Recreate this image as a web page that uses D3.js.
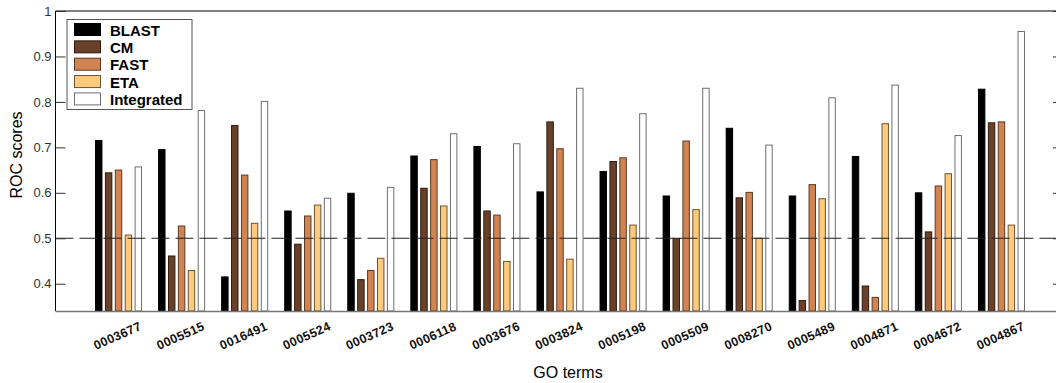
<!DOCTYPE html>
<html>
<head>
<meta charset="utf-8">
<script src="https://cdn.jsdelivr.net/npm/d3@7"></script>
<style>
  body { margin: 0; background: #fff; }
  svg { display: block; font-family: "Liberation Sans", Arial, sans-serif; }
</style>
</head>
<body>
<svg id="chart" width="1056" height="383"></svg>
<script>
const categories = ["0003677","0005515","0016491","0005524","0003723","0006118","0003676","0003824","0005198","0005509","0008270","0005489","0004871","0004672","0004867"];
const seriesNames = ["BLAST","CM","FAST","ETA","Integrated"];
const BLAST      = [0.715,0.695,0.415,0.560,0.599,0.681,0.702,0.602,0.647,0.593,0.742,0.593,0.680,0.600,0.828];
const CM         = [0.644,0.461,0.748,0.487,0.409,0.610,0.560,0.756,0.669,0.500,0.589,0.363,0.395,0.514,0.754];
const FAST       = [0.650,0.527,0.639,0.549,0.429,0.673,0.551,0.697,0.677,0.714,0.601,0.618,0.370,0.615,0.756];
const ETA        = [0.507,0.429,0.533,0.573,0.456,0.571,0.449,0.454,0.529,0.563,0.500,0.587,0.752,0.642,0.529];
const Integrated = [0.657,0.781,0.801,0.588,0.612,0.730,0.708,0.830,0.774,0.830,0.705,0.809,0.837,0.726,0.955];
const yTicks = [0.4,0.5,0.6,0.7,0.8,0.9,1];
const yTickLabels = ["0.4","0.5","0.6","0.7","0.8","0.9","1"];
const refLine = 0.5;

const values = {BLAST, CM, FAST, ETA, Integrated};
const fills = {BLAST:"#000000", CM:"#6a4028", FAST:"#d28352", ETA:"#ffc97e", Integrated:"#ffffff"};
const strokes = {BLAST:"#000000", CM:"#2e1a0e", FAST:"#5a3a22", ETA:"#6b5530", Integrated:"#6e6e6e"};

const svg = d3.select("#chart");
const pLeft = 55.5, pRight = 1056, pTop = 11, pBottom = 311;

const y = d3.scaleLinear().domain([0.34, 1]).range([pBottom, pTop]);
const x0 = d3.scaleBand().domain(categories).range([87, 1033]).paddingInner(0.27).paddingOuter(0.135);
const x1 = d3.scaleBand().domain(seriesNames).range([0, x0.bandwidth()]).paddingInner(0.35);

// bars
const groups = svg.append("g").selectAll("g").data(categories).join("g")
  .attr("transform", d => `translate(${x0(d)},0)`);
groups.selectAll("rect").data((c, i) => seriesNames.map(s => ({s, v: values[s][i]}))).join("rect")
  .attr("x", d => x1(d.s))
  .attr("y", d => y(d.v))
  .attr("width", x1.bandwidth())
  .attr("height", d => pBottom - y(d.v))
  .attr("fill", d => fills[d.s])
  .attr("stroke", d => strokes[d.s])
  .attr("stroke-width", 1);

// dashed reference line
svg.append("line")
  .attr("x1", pLeft).attr("x2", pRight)
  .attr("y1", y(refLine)).attr("y2", y(refLine))
  .attr("stroke", "#222").attr("stroke-width", 1.2)
  .attr("stroke-dasharray", "18,6");

// frame
svg.append("line").attr("x1", pLeft).attr("x2", pRight).attr("y1", pTop).attr("y2", pTop).attr("stroke", "#000");
svg.append("line").attr("x1", pLeft).attr("x2", pLeft).attr("y1", pTop).attr("y2", pBottom).attr("stroke", "#000");
svg.append("line").attr("x1", pLeft).attr("x2", pRight).attr("y1", pBottom + 0.5).attr("y2", pBottom + 0.5).attr("stroke", "#777").attr("stroke-width", 1.5);

// left axis
const yAxis = d3.axisLeft(y).tickValues(yTicks).tickFormat((d, i) => yTickLabels[i]).tickSizeInner(-10).tickSizeOuter(0).tickPadding(4);
const ag = svg.append("g").attr("transform", `translate(${pLeft},0)`).call(yAxis);
ag.select(".domain").remove();
ag.selectAll(".tick line").attr("stroke", "#333");
ag.selectAll(".tick text").attr("font-size", 13).attr("fill", "#333")
  .attr("font-family", "'Liberation Sans', Arial, sans-serif");

// right ticks
const rAxis = d3.axisRight(y).tickValues(yTicks).tickFormat("").tickSizeInner(-3).tickSizeOuter(0);
const rg = svg.append("g").attr("transform", `translate(${pRight},0)`).call(rAxis);
rg.select(".domain").remove();
rg.selectAll(".tick line").attr("stroke", "#333");

// x labels
svg.append("g").selectAll("text").data(categories).join("text")
  .attr("transform", d => `translate(${x0(d) + x0.bandwidth()/2 - 1},336) rotate(-24)`)
  .attr("text-anchor", "middle")
  .attr("dominant-baseline", "central")
  .attr("font-size", 12.5).attr("font-weight", "bold").attr("fill", "#111")
  .attr("letter-spacing", 0.3)
  .text(d => d);

// axis titles
svg.append("text").attr("x", 568).attr("y", 378).attr("text-anchor", "middle")
  .attr("font-size", 16).attr("fill", "#000").text("GO terms");
svg.append("text").attr("transform", "translate(22,155) rotate(-90)").attr("text-anchor", "middle")
  .attr("font-size", 16).attr("fill", "#000").text("ROC scores");

// legend
const lg = svg.append("g");
lg.append("rect").attr("x", 67).attr("y", 19.5).attr("width", 125).attr("height", 90)
  .attr("fill", "#fff").attr("stroke", "#555").attr("stroke-width", 1);
const rows = lg.selectAll("g").data(seriesNames).join("g")
  .attr("transform", (d, i) => `translate(0,${23.5 + i * 17.35})`);
rows.append("rect").attr("x", 74.5).attr("y", 0).attr("width", 26).attr("height", 12)
  .attr("fill", d => fills[d]).attr("stroke", d => strokes[d]).attr("stroke-width", 1);
rows.append("text").attr("x", 110).attr("y", 6.5).attr("dominant-baseline", "central")
  .attr("font-size", 15).attr("font-weight", "bold").attr("fill", "#000").text(d => d);
</script>
</body>
</html>
